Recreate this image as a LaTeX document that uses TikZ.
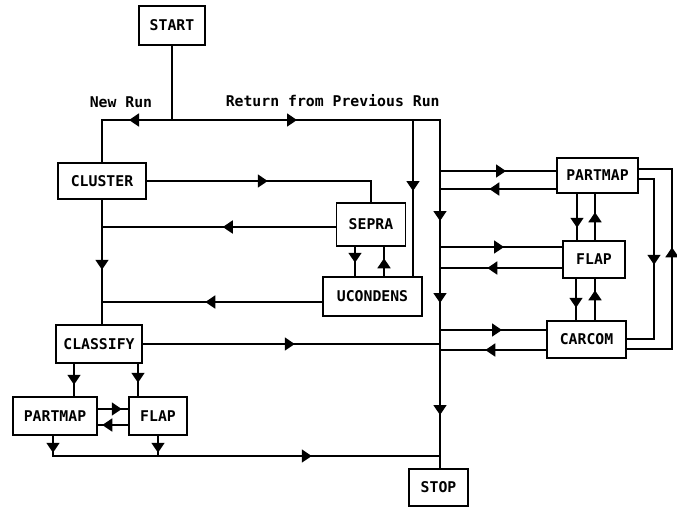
\documentclass[tikz,border=0pt]{standalone}
\usepackage{fontspec}
\setmonofont{DejaVu Sans Mono}
\usetikzlibrary{arrows.meta,decorations.markings}

\tikzstyle{box} = [draw, inner sep=0pt, font=\ttfamily\bfseries\fontsize{14.8}{17}\selectfont]
\tikzstyle{lbl} = [inner sep=0pt, anchor=base west, font=\ttfamily\bfseries\fontsize{14.8}{17}\selectfont]
\tikzset{flow/.style={postaction={decorate,decoration={markings,mark=at position #1pt with {\arrow{>}}}}}}

\begin{document}
\begin{tikzpicture}[x=1pt, y=-1pt, line width=1.5pt, >={Triangle[length=10pt,width=13pt]}]
\useasboundingbox (0,0) rectangle (677,507);
%boxes
\node[box, minimum width=66pt, minimum height=39pt] (start) at (172,25.5) {START};
\node[box, minimum width=88pt, minimum height=36pt] (cluster) at (102,181) {CLUSTER};
\node[box, minimum width=69pt, minimum height=43pt] (sepra) at (371,224.5) {SEPRA};
\node[box, minimum width=99pt, minimum height=39pt] (ucondens) at (372.5,296.5) {UCONDENS};
\node[box, minimum width=86pt, minimum height=38pt] (classify) at (99,344) {CLASSIFY};
\node[box, minimum width=84pt, minimum height=38pt] (partmapl) at (55,416) {PARTMAP};
\node[box, minimum width=58pt, minimum height=38pt] (flapl) at (158,416) {FLAP};
\node[box, minimum width=81pt, minimum height=35pt] (partmapr) at (597.5,175.5) {PARTMAP};
\node[box, minimum width=62pt, minimum height=37pt] (flapr) at (594,259.5) {FLAP};
\node[box, minimum width=79pt, minimum height=37pt] (carcom) at (586.5,339.5) {CARCOM};
\node[box, minimum width=59pt, minimum height=37pt] (stop) at (438.5,487.5) {STOP};
%labels
\node[lbl] (newrun) at (89,107) {New Run};
\node[lbl] (return) at (225,106) {Return from Previous Run};
%junctions
\coordinate (jstart) at (172,120);
\coordinate (jleft) at (102,120);
\coordinate (jsep) at (413,120);
\coordinate (jbus) at (440,120);
\coordinate (jbot) at (440,456);
%begin top line
\draw (start) -- (jstart);
\draw[flow=43] (jstart) -- (jleft) -- (jleft |- cluster.north);
\draw[flow=125, flow=369, flow=451, flow=563] (jstart) -- (jbus) -- (jbus |- stop.north);
\draw[flow=71] (jsep) -- (jsep |- ucondens.north);
%end top line
%begin left column
\draw[flow=121] (cluster.east) -| (sepra.north);
\draw[flow=113] (sepra.west |- 0,227) -- (jleft |- 0,227);
\draw[flow=70] (cluster.south) -- (cluster.south |- classify.north);
\draw[flow=117] (ucondens.west |- 0,302) -- (jleft |- 0,302);
\draw[flow=16] ([xshift=-16pt]sepra.south) -- ([xshift=-16pt]sepra.south |- ucondens.north);
\draw[flow=18] ([xshift=13pt]sepra.south |- ucondens.north) -- ([xshift=13pt]sepra.south);
\draw[flow=152] (classify.east) -- (classify.east -| jbus);
%end left column
%begin lower left
\draw[flow=21] (classify.south -| 74,0) -- (partmapl.north -| 74,0);
\draw[flow=19] (classify.south -| 138,0) -- (flapl.north -| 138,0);
\draw[flow=24] (partmapl.east |- 0,409) -- (flapl.west |- 0,409);
\draw[flow=26] (flapl.west |- 0,425) -- (partmapl.east |- 0,425);
\draw[flow=17, flow=279] (partmapl.south -| 53,0) -- (jbot -| 53,0) -- (jbot);
\draw[flow=17] (flapl.south) -- (flapl.south |- jbot);
%end lower left
%begin right column
\draw[flow=66] (jbus |- 0,171) -- (partmapr.west |- 0,171);
\draw[flow=67] (partmapr.west |- 0,189) -- (jbus |- 0,189);
\draw[flow=64] (jbus |- 0,247) -- (flapr.west |- 0,247);
\draw[flow=75] (flapr.west |- 0,268) -- (jbus |- 0,268);
\draw[flow=62] (jbus |- 0,330) -- (carcom.west |- 0,330);
\draw[flow=61] (carcom.west |- 0,350) -- (jbus |- 0,350);
\draw[flow=34] (partmapr.south -| 577,0) -- (flapr.north -| 577,0);
\draw[flow=28] (flapr.north -| 595,0) -- (partmapr.south -| 595,0);
\draw[flow=29] (flapr.south -| 576,0) -- (carcom.north -| 576,0);
\draw[flow=30] (carcom.north -| 595,0) -- (flapr.south -| 595,0);
\draw[flow=147] (carcom.east |- 0,349) -- (672,349) -- (672,169) -- (partmapr.east |- 0,169);
\draw[flow=101] (partmapr.east |- 0,179) -- (654,179) -- (654,339) -- (carcom.east |- 0,339);
%end right column
\end{tikzpicture}
\end{document}
